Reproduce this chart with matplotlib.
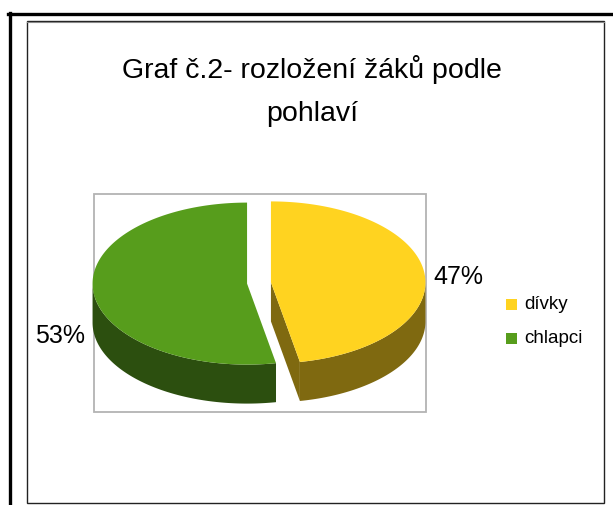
import numpy as np
import matplotlib
matplotlib.use("Agg")
import matplotlib.pyplot as plt
from matplotlib.patches import Polygon, Rectangle
from matplotlib.lines import Line2D

plt.rcParams['font.family'] = ['Liberation Sans', 'DejaVu Sans']

# ---- data ----
title_lines = ["Graf č.2- rozložení žáků podle", "pohlaví"]
categories = ["dívky", "chlapci"]
values = [47, 53]
top_colors = ["#ffd320", "#579d1c"]
side_colors = ["#7f6910", "#2c4f0f"]

W, H = 613, 505
fig = plt.figure(figsize=(W / 100, H / 100), dpi=100)
ax = fig.add_axes([0, 0, 1, 1])
ax.set_xlim(0, W)
ax.set_ylim(H, 0)
ax.axis('off')

# frames
ax.add_line(Line2D([8, W], [13.5, 13.5], color='black', lw=2.4))
ax.add_line(Line2D([9.5, 9.5], [12.5, H], color='black', lw=2.4))
ax.add_patch(Rectangle((27, 20.5), 577, 482, fill=False, ec='#222222', lw=1.0))
ax.add_line(Line2D([27, 604], [21.5, 21.5], color='#888888', lw=0.8))
ax.add_patch(Rectangle((94, 194), 332, 218, fill=False, ec='#b3b3b3', lw=1.3))

# title
ax.text(312, 78, title_lines[0], ha='center', va='baseline', fontsize=20.5)
ax.text(312, 121, title_lines[1], ha='center', va='baseline', fontsize=20.5)

# pie geometry
cx, cy = 259, 283
rx, ry = 154.5, 81
depth = 39
explode = 12


def pt(a, ox, oy, dz=0):
    r = np.radians(a)
    return ox + rx * np.cos(r), oy - ry * np.sin(r) + dz


total = float(sum(values))
s0 = 360.0 * values[0] / total
# first slice clockwise from the top, second fills the rest
ang = [(90 - s0, 90), (90, 450 - s0)]

offsets = []
for (a0, a1) in ang:
    mid = np.radians((a0 + a1) / 2)
    offsets.append((cx + explode * np.cos(mid), cy - explode * np.sin(mid) * ry / rx))

# side walls
for i, (a0, a1) in enumerate(ang):
    ox, oy = offsets[i]
    for base in (-360, 0, 360):
        f0, f1 = 180 + base, 360 + base
        s, e = max(a0, f0), min(a1, f1)
        if e > s:
            t = np.linspace(s, e, 120)
            top = [pt(a, ox, oy) for a in t]
            bot = [pt(a, ox, oy, depth) for a in t[::-1]]
            ax.add_patch(Polygon(top + bot, closed=True, fc=side_colors[i], ec='none'))
    if i == 0:
        ex, ey = pt(a0, ox, oy)
        ax.add_patch(Polygon([(ox, oy), (ex, ey), (ex, ey + depth), (ox, oy + depth)],
                             closed=True, fc=side_colors[i], ec='none'))

# top faces
for i, (a0, a1) in enumerate(ang):
    ox, oy = offsets[i]
    t = np.linspace(a0, a1, 240)
    poly = [(ox, oy)] + [pt(a, ox, oy) for a in t]
    ax.add_patch(Polygon(poly, closed=True, fc=top_colors[i], ec='none'))

# percentage labels
ax.text(433, 284, f"{values[0]}%", ha='left', va='baseline', fontsize=18)
ax.text(85, 343, f"{values[1]}%", ha='right', va='baseline', fontsize=18)

# legend
ly = [304.5, 338.5]
for i, c in enumerate(categories):
    ax.add_patch(Rectangle((506, ly[i] - 5.5), 11, 11, fc=top_colors[i], ec='none'))
    ax.text(524, ly[i], c, ha='left', va='center', fontsize=13.5)

fig.savefig("out.png", dpi=100)
